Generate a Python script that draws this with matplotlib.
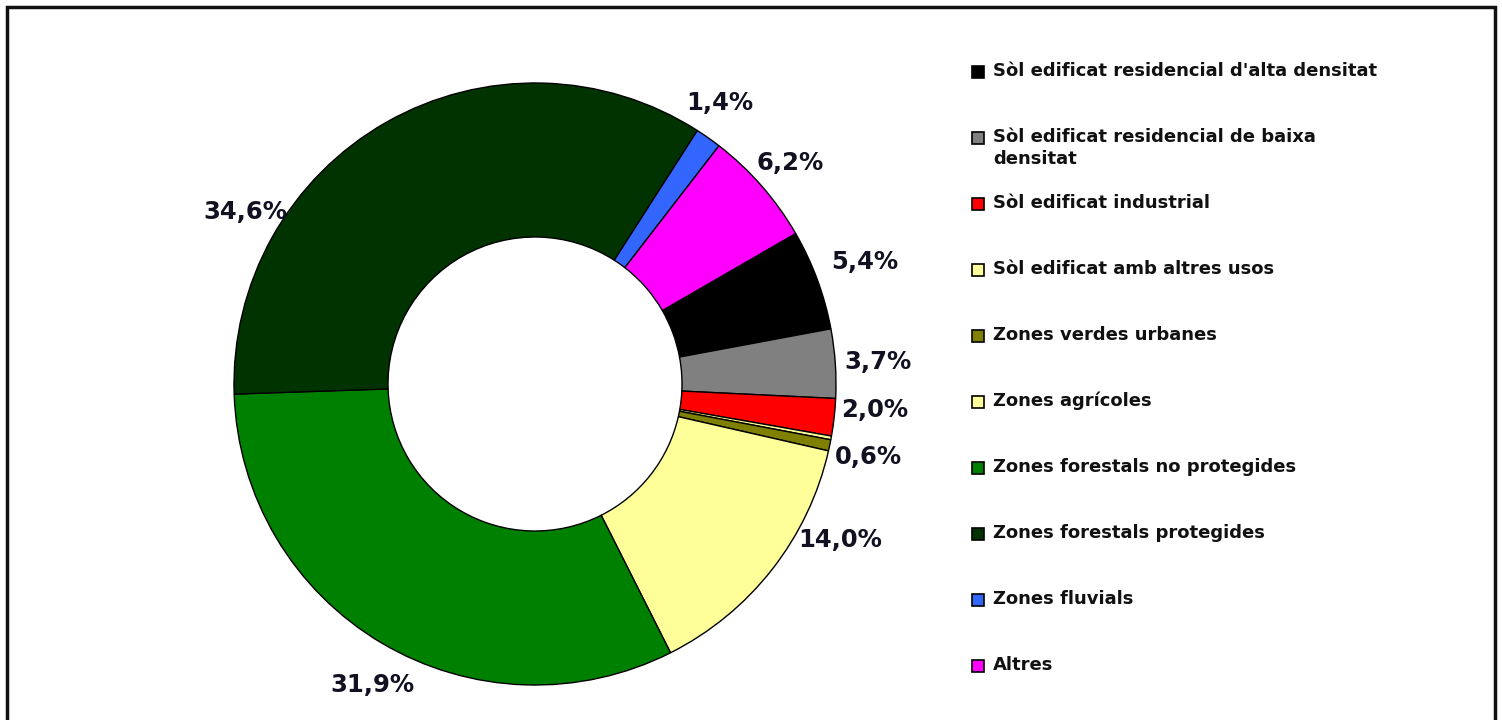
import numpy as np
import matplotlib
matplotlib.use("Agg")
import matplotlib.pyplot as plt
from matplotlib.patches import Rectangle

# categories (legend order = drawing order, clockwise)
categories = [
    "Sòl edificat residencial d'alta densitat",
    "Sòl edificat residencial de baixa\ndensitat",
    "Sòl edificat industrial",
    "Sòl edificat amb altres usos",
    "Zones verdes urbanes",
    "Zones agrícoles",
    "Zones forestals no protegides",
    "Zones forestals protegides",
    "Zones fluvials",
    "Altres",
]
percentages = [5.4, 3.7, 2.0, 0.2, 0.6, 14.0, 31.9, 34.6, 1.4, 6.2]
colors = ["#000000", "#808080", "#FF0000", "#FFFF99", "#808000",
          "#FFFF99", "#008000", "#003300", "#3366FF", "#FF00FF"]
# labels shown next to the ring (the 0.2% sliver has none)
pct_labels = ["5,4%", "3,7%", "2,0%", "", "0,6%", "14,0%", "31,9%", "34,6%", "1,4%", "6,2%"]
label_pos = [(865, 262), (878, 362), (875, 410), None, (868, 457),
             (840, 540), (372, 685), (245, 212), (720, 103), (790, 163)]

W, H = 1502, 720
fig = plt.figure(figsize=(W / 100, H / 100), dpi=100)
ax = fig.add_axes([0, 0, 1, 1])

# outer frame (bottom edge runs off the picture)
ax.add_patch(Rectangle((7, -10), W - 14, H - 7 + 10, fill=False,
                       edgecolor="#111111", linewidth=2.5))

cx, cy, r_out, r_in = 535, H - 384, 301, 147
ax.pie(percentages, colors=colors, startangle=30, counterclock=False,
       center=(cx, cy), radius=r_out, frame=True,
       wedgeprops=dict(width=r_out - r_in, edgecolor="black", linewidth=1.0))
ax.set_xlim(0, W)
ax.set_ylim(0, H)
ax.set_aspect("equal")
ax.axis("off")

for txt, pos in zip(pct_labels, label_pos):
    if pos is None:
        continue
    ax.text(pos[0], H - pos[1], txt, ha="center", va="center",
            fontsize=17.5, fontweight="bold", color="#111122")

# legend, one slot every 66 px
for i, (lab, col) in enumerate(zip(categories, colors)):
    y = 72 + 66 * i
    ax.add_patch(Rectangle((972, H - y - 6), 12, 12, facecolor=col,
                           edgecolor="black", linewidth=1.2))
    ax.text(993, H - y + 10, lab, ha="left", va="top", fontsize=13,
            fontweight="bold", color="#111111", linespacing=1.25)

fig.savefig("out.png", dpi=100)
